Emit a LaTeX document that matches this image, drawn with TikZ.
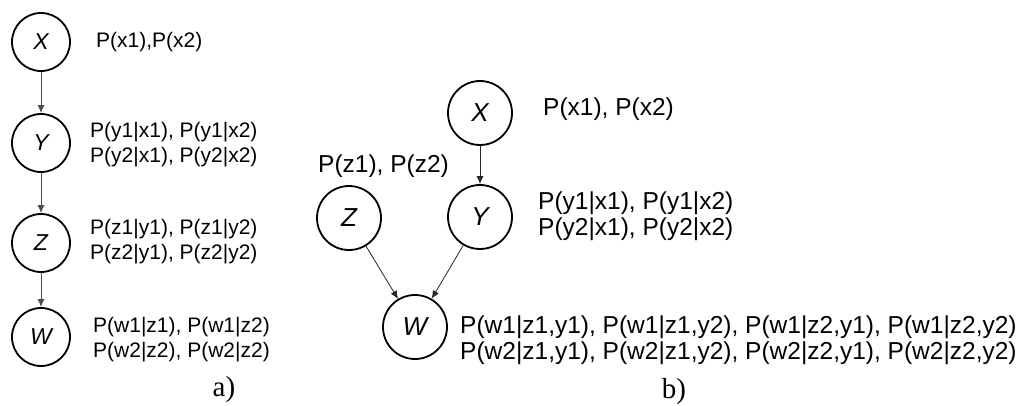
\documentclass[tikz,border=0pt]{standalone}
\usepackage{fontspec}
\setmainfont{Liberation Sans}
\newfontfamily\capfont{Liberation Serif}
\usetikzlibrary{arrows.meta}

\begin{document}
\begin{tikzpicture}[x=1pt,y=-1pt,>={Latex[length=8pt,width=7pt]},
    every circle node/.style={draw,line width=1.8pt,inner sep=0pt},
    varsmall/.style={circle,minimum size=58pt,font=\fontsize{23}{25}\selectfont\itshape},
    varbig/.style={circle,minimum size=64pt,font=\fontsize{26}{28}\selectfont\itshape},
    cptsmall/.style={anchor=west,align=left,inner sep=0pt,font=\fontsize{21}{25}\selectfont},
    cptbig/.style={anchor=west,align=left,inner sep=0pt,font=\fontsize{24.5}{25.5}\selectfont},
    graylink/.style={->,draw=black!70,line width=1pt},
    blacklink/.style={->,draw=black!85,line width=0.8pt}]
    \useasboundingbox (0,0) rectangle (1019,405);
    % a) chain
    \node[varsmall] (xa) at (41,42) {X};
    \node[varsmall] (ya) at (41,143) {Y};
    \node[varsmall] (za) at (41,243) {Z};
    \node[varsmall] (wa) at (41,337) {W};
    \node[cptsmall] (pxa) at (96,42) {P(x1),P(x2)};
    \node[cptsmall] (pya) at (90,145) {P(y1|x1), P(y1|x2)\\P(y2|x1), P(y2|x2)};
    \node[cptsmall] (pza) at (90,242) {P(z1|y1), P(z1|y2)\\P(z2|y1), P(z2|y2)};
    \node[cptsmall] (pwa) at (93,340) {P(w1|z1), P(w1|z2)\\P(w2|z2), P(w2|z2)};
    \draw (xa) edge[graylink] (ya);
    \draw (ya) edge[graylink] (za);
    \draw (za) edge[graylink] (wa);
    \node[font=\capfont\fontsize{29}{30}\selectfont] (capa) at (224,390) {a)};
    % b) collider
    \node[varbig] (xb) at (480,113) {X};
    \node[varbig] (yb) at (480,217) {Y};
    \node[varbig] (zb) at (349,218) {Z};
    \node[varbig] (wb) at (415,327) {W};
    \node[cptbig] (pxb) at (543,109) {P(x1), P(x2)};
    \node[cptbig] (pzb) at (318,166) {P(z1), P(z2)};
    \node[cptbig] (pyb) at (538,216) {P(y1|x1), P(y1|x2)\\P(y2|x1), P(y2|x2)};
    \node[cptbig] (pwb) at (460,340) {P(w1|z1,y1), P(w1|z1,y2), P(w1|z2,y1), P(w1|z2,y2)\\P(w2|z1,y1), P(w2|z1,y2), P(w2|z2,y1), P(w2|z2,y2)};
    \draw (xb) edge[blacklink] (yb);
    \draw (zb) edge[blacklink] (wb);
    \draw (yb) edge[blacklink] (wb);
    \node[font=\capfont\fontsize{29}{30}\selectfont] (capb) at (674,392) {b)};
\end{tikzpicture}
\end{document}
